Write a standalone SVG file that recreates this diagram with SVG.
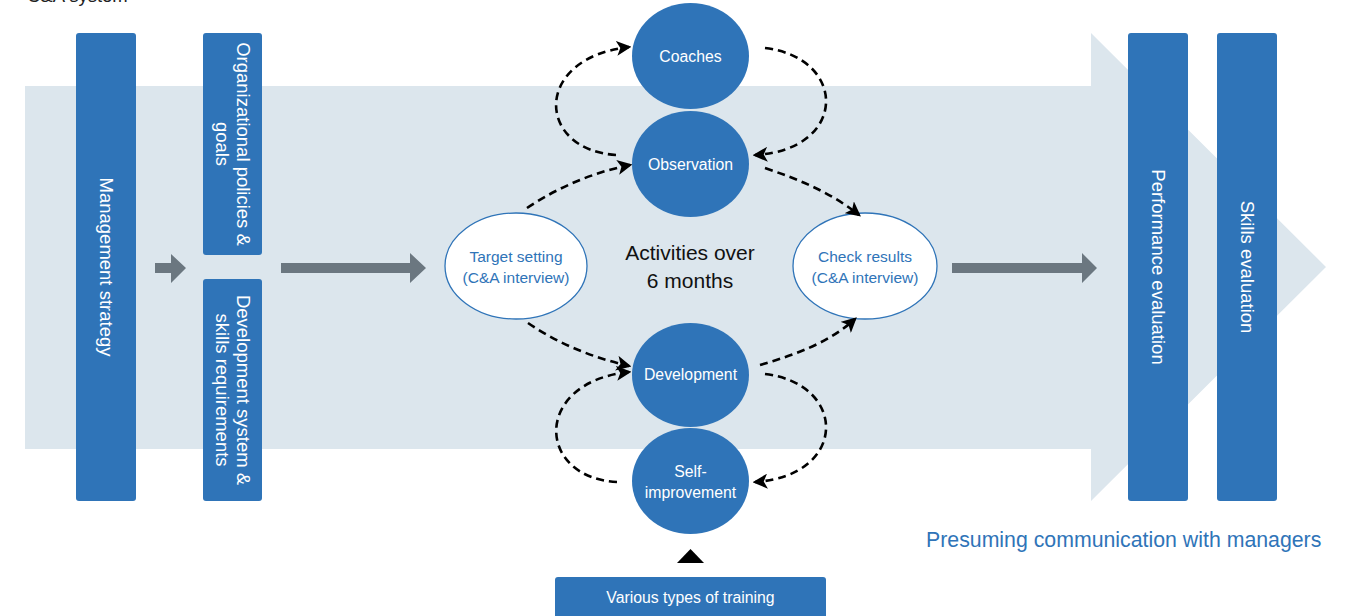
<svg xmlns="http://www.w3.org/2000/svg" width="1358" height="616" viewBox="0 0 1358 616">
<style>
.box{fill:#2f74b8}
.vt{fill:#fff;font-family:"Liberation Sans",Arial,sans-serif;font-size:18.5px;text-anchor:middle}
.ct{fill:#fff;font-family:"Liberation Sans",Arial,sans-serif;font-size:15.8px;text-anchor:middle}
.bt{fill:#2f74b8;font-family:"Liberation Sans",Arial,sans-serif;font-size:15.5px;text-anchor:middle}
.gray{fill:#6b7780}
.dash{fill:none;stroke:#000;stroke-width:2.6;stroke-dasharray:8 5;marker-end:url(#ah)}
</style>
<defs>
<marker id="ah" viewBox="0 0 12 12" refX="10" refY="6" markerWidth="15" markerHeight="15" markerUnits="userSpaceOnUse" orient="auto">
<path d="M0,0 L12,6 L0,12 L3,6 Z" fill="#000"/>
</marker>
</defs>
<rect width="1358" height="616" fill="#fff"/>
<text x="27" y="2" font-family="Liberation Sans,Arial,sans-serif" font-size="18.5" fill="#222">C&amp;A system</text>
<g id="band">
<path d="M25,86 H1091 V33 L1326,267 L1091,501 V449 H25 Z" fill="#dce6ed"/>
</g>
<g id="management-strategy">
<rect class="box" x="76" y="33" width="60" height="468" rx="3"/>
<text class="vt" transform="translate(106,267) rotate(90)" y="6.5">Management strategy</text>
</g>
<g id="org-policies">
<rect class="box" x="203" y="33" width="59" height="222" rx="3"/>
<text class="vt" transform="translate(232.5,144) rotate(90)"><tspan x="0" y="-4">Organizational policies  &amp;</tspan><tspan x="0" y="17">goals</tspan></text>
</g>
<g id="development-system">
<rect class="box" x="203" y="279" width="59" height="222" rx="3"/>
<text class="vt" transform="translate(232.5,390) rotate(90)"><tspan x="0" y="-4">Development system &amp;</tspan><tspan x="0" y="17">skills requirements</tspan></text>
</g>
<g id="performance-evaluation">
<rect class="box" x="1128" y="33" width="60" height="468" rx="3"/>
<text class="vt" transform="translate(1158,267) rotate(90)" y="6.5">Performance evaluation</text>
</g>
<g id="skills-evaluation">
<rect class="box" x="1217" y="33" width="60" height="468" rx="3"/>
<text class="vt" transform="translate(1247,267) rotate(90)" y="6.5">Skills evaluation</text>
</g>
<g id="target-setting">
<ellipse cx="516" cy="266" rx="71" ry="53" fill="#fff" stroke="#2f74b8" stroke-width="1.3"/>
<text class="bt" x="516" y="262">Target setting</text>
<text class="bt" x="516" y="283">(C&amp;A interview)</text>
</g>
<g id="check-results">
<ellipse cx="865" cy="266" rx="72" ry="53" fill="#fff" stroke="#2f74b8" stroke-width="1.3"/>
<text class="bt" x="865" y="262">Check results</text>
<text class="bt" x="865" y="283">(C&amp;A interview)</text>
</g>
<g id="coaches">
<ellipse class="box" cx="690.5" cy="56" rx="58.5" ry="53"/>
<text class="ct" x="690.5" y="62">Coaches</text>
</g>
<g id="observation">
<ellipse class="box" cx="690.5" cy="164" rx="58.5" ry="53"/>
<text class="ct" x="690.5" y="170">Observation</text>
</g>
<g id="development">
<ellipse class="box" cx="690.5" cy="375" rx="58.5" ry="52"/>
<text class="ct" x="690.5" y="380">Development</text>
</g>
<g id="self-improvement">
<ellipse class="box" cx="690.5" cy="481" rx="58.5" ry="53"/>
<text class="ct" x="690.5" y="477">Self-</text>
<text class="ct" x="690.5" y="498">improvement</text>
</g>
<g id="activities-label">
<text x="690" y="260" font-family="Liberation Sans,Arial,sans-serif" font-size="21" fill="#111" text-anchor="middle">Activities over</text>
<text x="690" y="288" font-family="Liberation Sans,Arial,sans-serif" font-size="21" fill="#111" text-anchor="middle">6 months</text>
</g>
<g id="training">
<rect class="box" x="555" y="577" width="271" height="50" rx="3"/>
<text class="ct" x="690.5" y="603">Various types of training</text>
<path d="M677,563 L704,563 L690.5,549 Z" fill="#000"/>
</g>
<g id="note">
<text x="926" y="547" font-family="Liberation Sans,Arial,sans-serif" font-size="21.3" fill="#2f74b8">Presuming communication with managers</text>
</g>
<g id="connectors">
<path class="gray" d="M155,263 H171 V254 L186,268 L171,283 V273 H155 Z"/>
<path class="gray" d="M281,263 H410 V253 L426,268 L410,283 V273 H281 Z"/>
<path class="gray" d="M952,263 H1082 V253 L1097,268 L1082,283 V273 H952 Z"/>
<path class="dash" d="M616,155 C536,150 532,58 629,47"/>
<path class="dash" d="M765,48 C848,58 848,150 755,155"/>
<path class="dash" d="M527,208 C560,186 595,172 630,165"/>
<path class="dash" d="M765,168 C800,180 830,192 859,215"/>
<path class="dash" d="M528,323 C560,345 595,358 629,366"/>
<path class="dash" d="M617,482 C536,478 532,382 629,372"/>
<path class="dash" d="M760,365 C795,355 830,342 855,319"/>
<path class="dash" d="M765,374 C848,384 848,476 755,482"/>
</g>
</svg>
